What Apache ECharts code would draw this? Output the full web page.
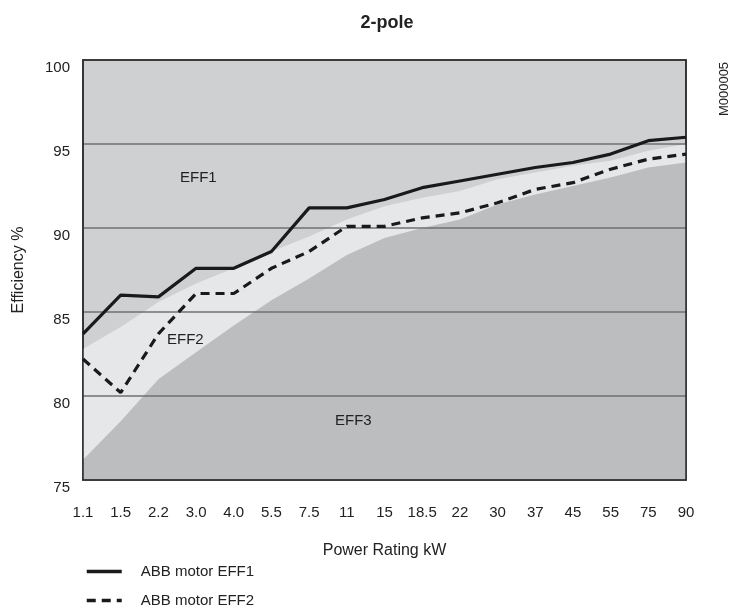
<!DOCTYPE html>
<html>
<head>
<meta charset="utf-8">
<script src="https://cdn.jsdelivr.net/npm/echarts@6/dist/echarts.min.js"></script>
<style>
html,body{margin:0;padding:0;background:#fff;}
#chart{width:740px;height:608px;}
</style>
</head>
<body>
<div id="chart"></div>
<script>
var categories = ['1.1','1.5','2.2','3.0','4.0','5.5','7.5','11','15','18.5','22','30','37','45','55','75','90'];
var eff1Limit = [82.8, 84.1, 85.6, 86.7, 87.6, 88.6, 89.5, 90.5, 91.3, 91.8, 92.2, 92.9, 93.3, 93.7, 94.0, 94.6, 95.0];
var eff2Limit = [76.2, 78.5, 81.0, 82.6, 84.2, 85.7, 87.0, 88.4, 89.4, 90.0, 90.5, 91.4, 92.0, 92.5, 93.0, 93.6, 93.9];
var abbEff1 = [83.7, 86.0, 85.9, 87.6, 87.6, 88.6, 91.2, 91.2, 91.7, 92.4, 92.8, 93.2, 93.6, 93.9, 94.4, 95.2, 95.4];
var abbEff2 = [82.2, 80.2, 83.7, 86.1, 86.1, 87.6, 88.6, 90.1, 90.1, 90.6, 90.9, 91.5, 92.3, 92.7, 93.5, 94.1, 94.4];
var yTicks = [75, 80, 85, 90, 95, 100];

var FONT = 'Liberation Sans, Arial, Helvetica, sans-serif';
var chart = echarts.init(document.getElementById('chart'), null, {renderer: 'canvas'});
var legendCommon = {
  left: 85,
  padding: 0,
  itemWidth: 35,
  itemHeight: 14,
  itemStyle: {color: 'rgba(0,0,0,0)', borderWidth: 0, opacity: 0},
  lineStyle: {width: 3.5},
  textStyle: {fontFamily: FONT, fontSize: 15, color: '#222', padding: [0, 0, 0, 14]}
};
var option = {
  animation: false,
  backgroundColor: '#ffffff',
  textStyle: {fontFamily: FONT},
  title: {
    text: '2-pole',
    left: 382,
    top: 9,
    textAlign: 'center',
    textStyle: {fontFamily: FONT, fontSize: 18, fontWeight: 'bold', color: '#222'}
  },
  grid: {
    left: 83, right: 54, top: 60, bottom: 128,
    show: true,
    backgroundColor: '#cfd0d2',
    borderColor: '#2b2b2b',
    borderWidth: 1.5
  },
  legend: [
    Object.assign({data: ['ABB motor EFF1'], top: 564}, legendCommon),
    Object.assign({data: ['ABB motor EFF2'], top: 593}, legendCommon)
  ],
  xAxis: [{
    type: 'category',
    data: categories,
    boundaryGap: false,
    name: 'Power Rating kW',
    nameLocation: 'middle',
    nameGap: 63,
    nameTextStyle: {fontFamily: FONT, fontSize: 16, color: '#222'},
    axisLine: {show: true, lineStyle: {color: '#2b2b2b', width: 1.5}},
    axisTick: {show: false},
    axisLabel: {interval: 0, margin: 25, fontSize: 15, color: '#222', fontFamily: FONT},
    splitLine: {show: false},
    z: 3
  }, {
    type: 'category',
    data: categories,
    boundaryGap: false,
    position: 'top',
    axisLine: {show: true, lineStyle: {color: '#2b2b2b', width: 1.5}},
    axisTick: {show: false},
    axisLabel: {show: false},
    splitLine: {show: false},
    z: 3
  }],
  yAxis: [{
    type: 'value',
    min: yTicks[0],
    max: yTicks[yTicks.length - 1],
    interval: 5,
    name: 'Efficiency %',
    nameLocation: 'middle',
    nameGap: 56,
    nameRotate: 90,
    nameTextStyle: {fontFamily: FONT, fontSize: 16, color: '#222'},
    axisLine: {show: true, lineStyle: {color: '#2b2b2b', width: 1.5}},
    axisTick: {show: false},
    axisLabel: {margin: 13, fontSize: 15, color: '#222', fontFamily: FONT, verticalAlign: 'top'},
    splitLine: {show: true, lineStyle: {color: '#707172', width: 1.5}},
    z: 3
  }, {
    type: 'value',
    min: yTicks[0],
    max: yTicks[yTicks.length - 1],
    interval: 5,
    position: 'right',
    axisLine: {show: true, lineStyle: {color: '#2b2b2b', width: 1.5}},
    axisTick: {show: false},
    axisLabel: {show: false},
    splitLine: {show: false},
    z: 3
  }],
  graphic: [
    {type: 'text', left: 180, top: 170, style: {text: 'EFF1', font: '15px ' + FONT, fill: '#222'}, z: 10},
    {type: 'text', left: 167, top: 332, style: {text: 'EFF2', font: '15px ' + FONT, fill: '#222'}, z: 10},
    {type: 'text', left: 335, top: 413, style: {text: 'EFF3', font: '15px ' + FONT, fill: '#222'}, z: 10},
    {type: 'text', x: 724, y: 89, rotation: Math.PI / 2,
      style: {text: 'M000005', font: '13px ' + FONT, fill: '#222', align: 'center', verticalAlign: 'middle'}, z: 10}
  ],
  series: [
    {
      name: 'EFF1 limit', type: 'line', data: eff1Limit, symbol: 'none', silent: true,
      lineStyle: {width: 0}, areaStyle: {color: '#e6e7e8', opacity: 1, origin: 'start'}, z: 1
    },
    {
      name: 'EFF2 limit', type: 'line', data: eff2Limit, symbol: 'none', silent: true,
      lineStyle: {width: 0}, areaStyle: {color: '#bcbdbf', opacity: 1, origin: 'start'}, z: 2
    },
    {
      name: 'ABB motor EFF1', type: 'line', data: abbEff1, symbol: 'none',
      itemStyle: {color: '#1a1a1a'},
      lineStyle: {color: '#1a1a1a', width: 3.2}, z: 5
    },
    {
      name: 'ABB motor EFF2', type: 'line', data: abbEff2, symbol: 'none',
      itemStyle: {color: '#1a1a1a'},
      lineStyle: {color: '#1a1a1a', width: 3.2, type: [9, 6]}, z: 5
    }
  ]
};
chart.setOption(option);
</script>
</body>
</html>
